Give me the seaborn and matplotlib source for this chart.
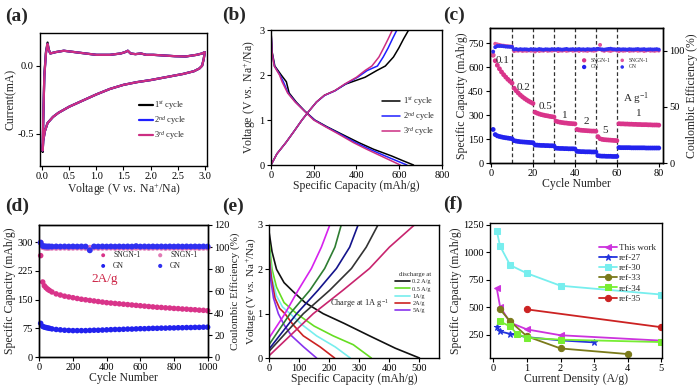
import matplotlib
matplotlib.use("Agg")
from matplotlib import pyplot as plt
import seaborn as sns

# ---------------- (a) cyclic voltammetry ----------------
cv_v = [0.01, 0.02, 0.04, 0.07, 0.10, 0.12, 0.15, 0.25, 0.40, 0.60, 0.80, 1.00, 1.25, 1.45,
        1.53, 1.58, 1.63, 1.72, 1.82, 1.92, 2.05, 2.25, 2.45, 2.65, 2.85, 2.95, 3.00,
        2.98, 2.95, 2.90, 2.80, 2.60, 2.40, 2.20, 2.00, 1.75, 1.50, 1.25, 1.00, 0.75,
        0.50, 0.30, 0.20, 0.10, 0.05, 0.02, 0.01]
cv_c1 = [-0.63, -0.41, -0.07, 0.10, 0.17, 0.12, 0.09, 0.10, 0.11, 0.10, 0.09, 0.08, 0.08, 0.09,
         0.10, 0.11, 0.09, 0.085, 0.09, 0.08, 0.08, 0.075, 0.07, 0.068, 0.08, 0.09, 0.10,
         0.05, 0.00, -0.02, -0.04, -0.06, -0.075, -0.09, -0.105, -0.12, -0.14, -0.17, -0.21, -0.255,
         -0.30, -0.345, -0.375, -0.42, -0.48, -0.55, -0.63]
cv_c2 = [-0.62, -0.40, -0.08, 0.09, 0.16, 0.12, 0.09, 0.10, 0.11, 0.10, 0.09, 0.08, 0.08, 0.09,
         0.10, 0.11, 0.09, 0.085, 0.09, 0.08, 0.08, 0.075, 0.07, 0.068, 0.08, 0.09, 0.10,
         0.05, 0.00, -0.02, -0.04, -0.06, -0.075, -0.09, -0.105, -0.12, -0.14, -0.17, -0.21, -0.255,
         -0.30, -0.345, -0.375, -0.42, -0.48, -0.55, -0.62]
cv_c3 = [-0.62, -0.40, -0.08, 0.09, 0.16, 0.12, 0.09, 0.10, 0.11, 0.10, 0.09, 0.08, 0.08, 0.09,
         0.10, 0.11, 0.09, 0.085, 0.09, 0.08, 0.08, 0.075, 0.07, 0.068, 0.08, 0.09, 0.10,
         0.05, 0.00, -0.02, -0.04, -0.06, -0.075, -0.09, -0.105, -0.12, -0.14, -0.17, -0.21, -0.255,
         -0.30, -0.345, -0.375, -0.42, -0.48, -0.55, -0.62]

# ---------------- (b) charge / discharge profiles ----------------
b_v_dis = [3.0, 2.5, 2.2, 2.0, 1.85, 1.6, 1.4, 1.2, 1.0, 0.85, 0.7, 0.5, 0.35, 0.2, 0.1, 0.0]
b_dis1 = [0, 6, 18, 48, 72, 85, 118, 158, 205, 262, 325, 410, 480, 565, 615, 667]
b_dis2 = [0, 5, 16, 42, 58, 80, 115, 157, 203, 258, 318, 395, 462, 535, 585, 636]
b_dis3 = [0, 5, 15, 40, 52, 78, 113, 156, 200, 255, 312, 385, 448, 515, 560, 605]
b_v_ch = [0, 0.25, 0.5, 0.75, 1.0, 1.2, 1.4, 1.55, 1.65, 1.8, 1.95, 2.1, 2.2, 2.4, 2.6, 2.8, 3.0]
b_ch1 = [0, 28, 70, 108, 145, 178, 213, 250, 298, 350, 440, 495, 535, 573, 598, 620, 644]
b_ch2 = [0, 28, 70, 108, 145, 178, 213, 252, 300, 348, 405, 450, 498, 525, 548, 568, 589]
b_ch3 = [0, 28, 70, 108, 145, 178, 213, 250, 298, 345, 400, 440, 472, 505, 527, 548, 568]
b_labels = ["1$^{st}$ cycle", "2$^{nd}$ cycle", "3$^{rd}$ cycle"]

# ---------------- (c) rate performance ----------------
c_cycle = list(range(1, 81))
c_sngn_cap = [675, 640, 612, 590, 570, 553, 538, 524, 512, 500,
              468, 452, 438, 425, 414, 404, 395, 387, 380, 373,
              318, 312, 307, 303, 300, 297, 295, 292, 290, 288,
              262, 258, 255, 253, 251, 250, 248, 247, 246, 245,
              210, 207, 205, 204, 203, 202, 201, 200, 200, 199,
              165, 152, 148, 146, 145, 144, 143, 142, 141, 140,
              246, 245, 245, 244, 244, 243, 243, 242, 242, 241,
              241, 240, 240, 240, 239, 239, 238, 238, 238, 237]
c_gn_cap = [210, 178, 170, 166, 163, 160, 158, 156, 154, 152,
            140, 137, 135, 133, 132, 131, 130, 129, 128, 127,
            113, 112, 111, 110, 110, 109, 109, 108, 108, 107,
            93, 92, 91, 91, 90, 90, 89, 89, 89, 88,
            73, 72, 71, 71, 70, 70, 70, 69, 69, 69,
            46, 44, 43, 43, 42, 42, 42, 41, 41, 41,
            97, 96, 96, 96, 96, 96, 95, 95, 95, 95,
            95, 95, 95, 94, 94, 94, 94, 94, 94, 94]
c_sngn_ce = [96, 106, 105.5, 105, 104.5, 104.3, 104, 103.8, 103.6, 103.5,
             99.5, 100, 99.8, 100.2, 99.6, 100, 99.7, 100.1, 99.8, 100,
             99.2, 100.3, 99.6, 100, 99.8, 100.4, 99.7, 100, 99.9, 100.2,
             100.6, 99.5, 100, 99.8, 100.3, 99.7, 100, 100.4, 99.8, 100,
             100.2, 99.6, 100.5, 99.9, 100, 99.7, 100.3, 100, 99.8, 100.1,
             101, 105, 100.2, 99.7, 100.5, 100, 99.6, 100.2, 100.8, 100,
             99.5, 100.2, 99.8, 100, 100.4, 99.7, 100, 99.9, 100.3, 99.8,
             100, 100.2, 99.6, 100, 100.3, 99.8, 100, 99.7, 100.1, 99.9]
c_gn_ce = [99, 103, 104, 104, 104, 103.8, 103.5, 103.4, 103.3, 103.2,
           101, 101.3, 100.8, 101.2, 100.9, 101.1, 101, 100.7, 101.2, 100.9,
           101, 100.8, 101.3, 101, 100.7, 101.1, 101, 100.8, 101.2, 101,
           100.9, 101.3, 101, 100.8, 101.1, 101.4, 100.9, 101, 101.2, 100.8,
           101, 101.3, 100.9, 101.1, 100.8, 101.2, 101, 100.9, 101.3, 101,
           101.5, 101.2, 101, 100.8, 101.1, 101.4, 101.6, 101.2, 101, 100.9,
           101.2, 100.9, 101.1, 101, 100.8, 101.2, 101, 100.9, 101.1, 101.3,
           100.9, 101, 101.2, 100.8, 101, 101.1, 100.9, 101, 101.2, 100.8]
c_rate_text = ["0.1", "0.2", "0.5", "1", "2", "5", "1"]
c_breaks = [10, 20, 30, 40, 50, 60]

# ---------------- (d) long cycling at 2 A/g ----------------
d_cycle = [8, 20, 30, 40, 50, 60, 75, 100, 125, 150, 175, 200, 225, 250, 275, 300, 325, 350,
           375, 400, 425, 450, 475, 500, 525, 550, 575, 600, 625, 650, 675, 700, 725, 750,
           775, 800, 825, 850, 875, 900, 925, 950, 975, 1000]
d_sngn_cap = [265, 196, 186, 181, 177, 174, 170, 165, 162, 159, 157, 155, 153, 151, 149.5, 148,
              146.5, 145, 143.5, 142, 141, 140, 139, 138, 137, 136, 135, 134, 133, 132, 131, 130,
              129.5, 128.5, 128, 127, 126.5, 125.5, 125, 124, 123.5, 122.5, 122, 121]
d_gn_cap = [88, 80, 78, 77, 76, 75, 73.5, 72, 71, 70, 69.5, 69, 69, 69, 69, 69.5,
            70, 70, 70.5, 71, 71.5, 72, 72, 72.5, 73, 73, 73.5, 74, 74, 74.5, 75, 75,
            75.5, 75.5, 76, 76, 76.5, 76.5, 77, 77, 77.5, 77.5, 78, 78]
d_sngn_ce = [104, 100, 99.5, 99.3, 99.2, 99.4, 99.3, 99.2, 99.3, 99.4, 99.2, 99.3, 99.4, 99.3,
             99.2, 99.3, 99.4, 99.2, 99.3, 99.3, 99.4, 99.2, 99.3, 99.4, 99.3, 99.2, 99.3, 99.4,
             99.3, 99.2, 99.3, 99.4, 99.3, 99.2, 99.3, 99.3, 99.4, 99.2, 99.3, 99.4, 99.3, 99.2,
             99.3, 99.3]
d_gn_ce = [104, 101, 100.6, 100.5, 100.4, 100.5, 100.4, 100.5, 100.4, 100.5, 100.4, 100.5,
           100.4, 100.5, 100.4, 97, 100.5, 100.4, 100.5, 100.4, 100.5, 100.4, 100.5, 100.4,
           100.5, 100.4, 100.8, 100.4, 100.5, 100.4, 100.5, 100.4, 100.5, 100.4, 100.5, 100.4,
           100.5, 100.4, 100.5, 100.4, 100.5, 100.4, 100.5, 100.4]

# ---------------- (e) discharge at different rates, charge at 1 A/g ----------------
e_rates = ["0.2 A/g", "0.5 A/g", "1A/g", "2A/g", "5A/g"]
e_dis_cap = [
    [0, 10, 25, 50, 80, 120, 180, 250, 334, 420, 500],
    [0, 10, 25, 50, 92, 150, 213, 280, 340],
    [0, 10, 25, 45, 70, 110, 158, 220, 270],
    [0, 8, 20, 35, 53, 80, 114, 170, 218],
    [0, 5, 15, 31, 50, 75, 115, 158],
]
e_dis_v = [
    [2.85, 2.4, 2.0, 1.7, 1.5, 1.25, 1.0, 0.78, 0.5, 0.22, 0.0],
    [2.65, 2.0, 1.6, 1.25, 1.0, 0.72, 0.5, 0.3, 0.0],
    [2.5, 1.8, 1.4, 1.15, 1.0, 0.75, 0.5, 0.25, 0.0],
    [2.35, 1.8, 1.35, 1.12, 1.0, 0.75, 0.5, 0.25, 0.0],
    [2.2, 1.8, 1.35, 1.0, 0.75, 0.5, 0.25, 0.0],
]
e_ch_v = [0.0, 1.0, 1.53, 2.02, 2.5, 3.0]
e_ch_cap = [
    [0, 147, 246, 334, 400, 483],
    [0, 114, 202, 274, 323, 362],
    [0, 92, 163, 224, 268, 296],
    [0, 70, 136, 185, 219, 240],
    [0, 53, 97, 141, 174, 202],
]
e_ch_start = [0.05, 0.15, 0.2, 0.3, 0.45]

# ---------------- (f) comparison with literature ----------------
f_names = ["This work", "ref-27", "ref-30", "ref-33", "ref-34", "ref-35"]
f_x = [
    [0.1, 0.2, 0.5, 1, 2, 5],
    [0.1, 0.2, 0.5, 1, 2, 3],
    [0.1, 0.2, 0.5, 1, 2, 5],
    [0.2, 0.5, 1, 2, 4],
    [0.2, 0.5, 0.7, 1, 2, 5],
    [1, 5],
]
f_y = [
    [674, 505, 360, 298, 245, 196],
    [318, 280, 257, 228, 198, 180],
    [1195, 1055, 882, 808, 695, 615],
    [480, 372, 235, 125, 74],
    [370, 325, 258, 222, 205, 183],
    [480, 318],
]

# ---------------- style ----------------
sns.set_theme(style="ticks")
plt.rcParams["font.family"] = ["Liberation Serif", "DejaVu Serif"]
plt.rcParams["mathtext.fontset"] = "custom"
plt.rcParams["mathtext.rm"] = "Liberation Serif"
plt.rcParams["mathtext.it"] = "Liberation Serif:italic"
plt.rcParams["axes.linewidth"] = 1.0

LAB = 8.5
TCK = 7.5
black = "#000000"
blue = "#1f1fff"
mag = "#cc2e82"
vs_label = "Voltage (V $\\it{vs.}$ Na$^{+}$/Na)"
cap_label = "Specific Capacity (mAh/g)"


def style(ax):
    ax.tick_params(direction="out", length=3, width=0.8, labelsize=TCK, pad=1.5,
                   colors="black")
    for sp in ax.spines.values():
        sp.set_linewidth(1.0)
        sp.set_color("black")


fig = plt.figure(figsize=(7, 3.86), dpi=100)
ax_a = fig.add_axes([0.0571, 0.5699, 0.2386, 0.3446])
ax_b = fig.add_axes([0.3871, 0.5725, 0.2443, 0.3497])
ax_c = fig.add_axes([0.700, 0.5777, 0.2471, 0.3497])
ax_d = fig.add_axes([0.0557, 0.0751, 0.2414, 0.3420])
ax_e = fig.add_axes([0.3843, 0.0725, 0.2429, 0.3446])
ax_f = fig.add_axes([0.700, 0.0725, 0.2457, 0.3497])

# (a)
for cur, col, lab in zip([cv_c1, cv_c2, cv_c3], [black, blue, mag], b_labels):
    sns.lineplot(x=cv_v, y=cur, sort=False, estimator=None, color=col, lw=1.6,
                 label=lab, legend=False, ax=ax_a)
ax_a.set_xlim(-0.04, 3.04)
ax_a.set_ylim(-0.735, 0.24)
ax_a.set_xticks([0, 0.5, 1.0, 1.5, 2.0, 2.5, 3.0])
ax_a.set_xticklabels(["0.0", "0.5", "1.0", "1.5", "2.0", "2.5", "3.0"])
ax_a.set_yticks([-0.5, 0.0])
ax_a.set_yticklabels(["-0.5", "0.0"])
ax_a.set_xlabel(vs_label, fontsize=LAB, labelpad=0)
ax_a.set_ylabel("Current(mA)", fontsize=LAB, labelpad=0)
ax_a.legend(loc="center right", bbox_to_anchor=(0.9, 0.34), frameon=False, fontsize=6,
            handlelength=1.6, handletextpad=0.2, labelspacing=0.25, borderpad=0)
style(ax_a)

# (b)
for cap, col in zip([b_dis1, b_dis2, b_dis3], [black, blue, mag]):
    sns.lineplot(x=cap, y=b_v_dis, sort=False, estimator=None, color=col, lw=1.1,
                 legend=False, ax=ax_b)
for cap, col, lab in zip([b_ch1, b_ch2, b_ch3], [black, blue, mag], b_labels):
    sns.lineplot(x=cap, y=b_v_ch, sort=False, estimator=None, color=col, lw=1.1,
                 label=lab, legend=False, ax=ax_b)
ax_b.set_xlim(0, 800)
ax_b.set_ylim(0, 3)
ax_b.set_xticks([0, 200, 400, 600, 800])
ax_b.set_yticks([0, 1, 2, 3])
ax_b.set_xlabel(cap_label, fontsize=LAB, labelpad=0)
ax_b.set_ylabel(vs_label, fontsize=LAB, labelpad=1)
ax_b.legend(loc="center right", bbox_to_anchor=(0.98, 0.36), frameon=False, fontsize=6,
            handlelength=2.2, handletextpad=0.3, labelspacing=0.25, borderpad=0)
style(ax_b)

# (c)
ax_c2 = ax_c.twinx()
for xb in c_breaks:
    ax_c.axvline(xb, color="#333333", lw=0.9, ls=(0, (3, 2)), zorder=0)
sns.scatterplot(x=c_cycle, y=c_sngn_cap, color="#d9348a", s=12, edgecolor="none",
                label="SNGN-1", legend=False, ax=ax_c)
sns.scatterplot(x=c_cycle, y=c_gn_cap, color="#2222ee", s=12, edgecolor="none",
                label="GN", legend=False, ax=ax_c)
sns.scatterplot(x=c_cycle, y=c_sngn_ce, color="#e0559c", s=8, edgecolor="none",
                label="SNGN-1", legend=False, ax=ax_c2)
sns.scatterplot(x=c_cycle, y=c_gn_ce, color="#3030f0", s=8, edgecolor="none",
                label="GN", legend=False, ax=ax_c2)
ax_c.set_xlim(-0.5, 82)
ax_c.set_ylim(0, 845)
ax_c2.set_ylim(0, 120)
ax_c.set_xticks([0, 20, 40, 60, 80])
ax_c.set_yticks([0, 150, 300, 450, 600, 750])
ax_c2.set_yticks([0, 50, 100])
ax_c.set_xlabel("Cycle Number", fontsize=LAB, labelpad=0)
ax_c.set_ylabel(cap_label, fontsize=LAB, labelpad=0)
ax_c2.set_ylabel("Coulombic Efficiency (%)", fontsize=LAB, labelpad=1)
c_pos = [(5.5, 640), (15.5, 470), (26, 355), (35, 300), (45.5, 258), (54.5, 205), (70.5, 310)]
for txt, (px, py) in zip(c_rate_text, c_pos):
    ax_c.text(px, py, txt, fontsize=8, ha="center", va="center")
ax_c.text(69, 405, "A g$^{-1}$", fontsize=8, ha="center", va="center")
h1, l1 = ax_c.get_legend_handles_labels()
h2, l2 = ax_c2.get_legend_handles_labels()
ax_c2.legend(h1 + h2, l1 + l2, ncol=2, loc="upper right", bbox_to_anchor=(0.93, 0.80),
             frameon=False, fontsize=4, handletextpad=0.1, columnspacing=1.2,
             labelspacing=0.3, borderpad=0, markerscale=0.9)
style(ax_c)
style(ax_c2)

# (d)
ax_d2 = ax_d.twinx()
sns.scatterplot(x=d_cycle, y=d_sngn_cap, color="#d9348a", s=16, edgecolor="none",
                label="SNGN-1", legend=False, ax=ax_d, clip_on=False)
sns.scatterplot(x=d_cycle, y=d_gn_cap, color="#2222ee", s=16, edgecolor="none",
                label="GN", legend=False, ax=ax_d, clip_on=False)
sns.scatterplot(x=d_cycle, y=d_sngn_ce, color="#e27ab5", s=18, edgecolor="none",
                label="SNGN-1", legend=False, ax=ax_d2, clip_on=False)
sns.scatterplot(x=d_cycle, y=d_gn_ce, color="#3030f0", s=18, edgecolor="none",
                label="GN", legend=False, ax=ax_d2, clip_on=False)
ax_d.set_xlim(-2, 1002)
ax_d.set_ylim(0, 345)
ax_d2.set_ylim(0, 120)
ax_d.set_xticks([0, 200, 400, 600, 800, 1000])
ax_d.set_yticks([0, 75, 150, 225, 300])
ax_d2.set_yticks([0, 20, 40, 60, 80, 100, 120])
ax_d.set_xlabel("Cycle Number", fontsize=LAB, labelpad=0)
ax_d.set_ylabel(cap_label, fontsize=LAB, labelpad=1)
ax_d2.set_ylabel("Coulombic Efficiency (%)", fontsize=8, labelpad=0)
ax_d.text(390, 205, "2A/g", color="#cc2244", fontsize=9.5, ha="center", va="center")
h1, l1 = ax_d.get_legend_handles_labels()
h2, l2 = ax_d2.get_legend_handles_labels()
ax_d2.legend(h1 + h2, l1 + l2, ncol=2, loc="upper right", bbox_to_anchor=(0.96, 0.83),
             frameon=False, fontsize=5.5, handletextpad=0.3, columnspacing=1.6,
             labelspacing=0.35, borderpad=0, markerscale=0.7)
style(ax_d)
style(ax_d2)

# (e)
dis_cols = ["#111111", "#66dd22", "#77eeee", "#cc2222", "#8833ee"]
ch_cols = ["#c8246e", "#333333", "#14148c", "#2e7d32", "#d622ee"]
for cap, volt, col, lab in zip(e_dis_cap, e_dis_v, dis_cols, e_rates):
    sns.lineplot(x=cap, y=volt, sort=False, estimator=None, color=col, lw=1.2,
                 label=lab, legend=False, ax=ax_e)
for cap, v0, col in zip(e_ch_cap, e_ch_start, ch_cols):
    sns.lineplot(x=cap, y=[v0] + e_ch_v[1:], sort=False, estimator=None, color=col,
                 lw=1.2, legend=False, ax=ax_e)
ax_e.set_xlim(0, 565)
ax_e.set_ylim(0, 3)
ax_e.set_xticks([0, 100, 200, 300, 400, 500])
ax_e.set_yticks([0, 1, 2, 3])
ax_e.set_xlabel(cap_label, fontsize=LAB, labelpad=0)
ax_e.set_ylabel(vs_label, fontsize=8, labelpad=0)
ax_e.text(203, 1.24, "Charge at 1A g$^{-1}$", fontsize=6, ha="left", va="center")
leg = ax_e.legend(loc="upper right", bbox_to_anchor=(0.97, 0.67), frameon=False,
                  fontsize=4.5, title="discharge at", title_fontsize=4.8,
                  handlelength=2.5, handletextpad=0.3, labelspacing=0.3, borderpad=0)
leg._legend_box.align = "right"
style(ax_e)

# (f)
f_cols = ["#cc33dd", "#2233dd", "#77eeee", "#7a7a1a", "#77ee33", "#cc2222"]
f_marks = ["<", "*", "s", "o", "s", "o"]
for xs, ys, col, mk, lab in zip(f_x, f_y, f_cols, f_marks, f_names):
    sns.lineplot(x=xs, y=ys, sort=False, estimator=None, color=col, lw=1.3, marker=mk,
                 markersize=4.5, markeredgecolor=col, label=lab, legend=False, ax=ax_f)
ax_f.set_xlim(-0.1, 5.02)
ax_f.set_ylim(38, 1265)
ax_f.set_xticks([0, 1, 2, 3, 4, 5])
ax_f.set_yticks([250, 500, 750, 1000, 1250])
ax_f.set_xlabel("Current Density (A/g)", fontsize=LAB, labelpad=0)
ax_f.set_ylabel(cap_label, fontsize=LAB, labelpad=1)
ax_f.legend(loc="upper right", bbox_to_anchor=(0.99, 0.88), frameon=False, fontsize=6.5,
            handlelength=2.0, handletextpad=0.2, labelspacing=0.2, borderpad=0)
style(ax_f)

# panel letters
for lab, px, py in [("(a)", 5, 16), ("(b)", 222, 15), ("(c)", 443, 15),
                    ("(d)", 5, 206), ("(e)", 222, 206), ("(f)", 443, 204)]:
    fig.text(px / 700, 1 - py / 386, lab, fontsize=14, fontweight="bold",
             ha="left", va="center")

fig.savefig("out.png", dpi=100)
